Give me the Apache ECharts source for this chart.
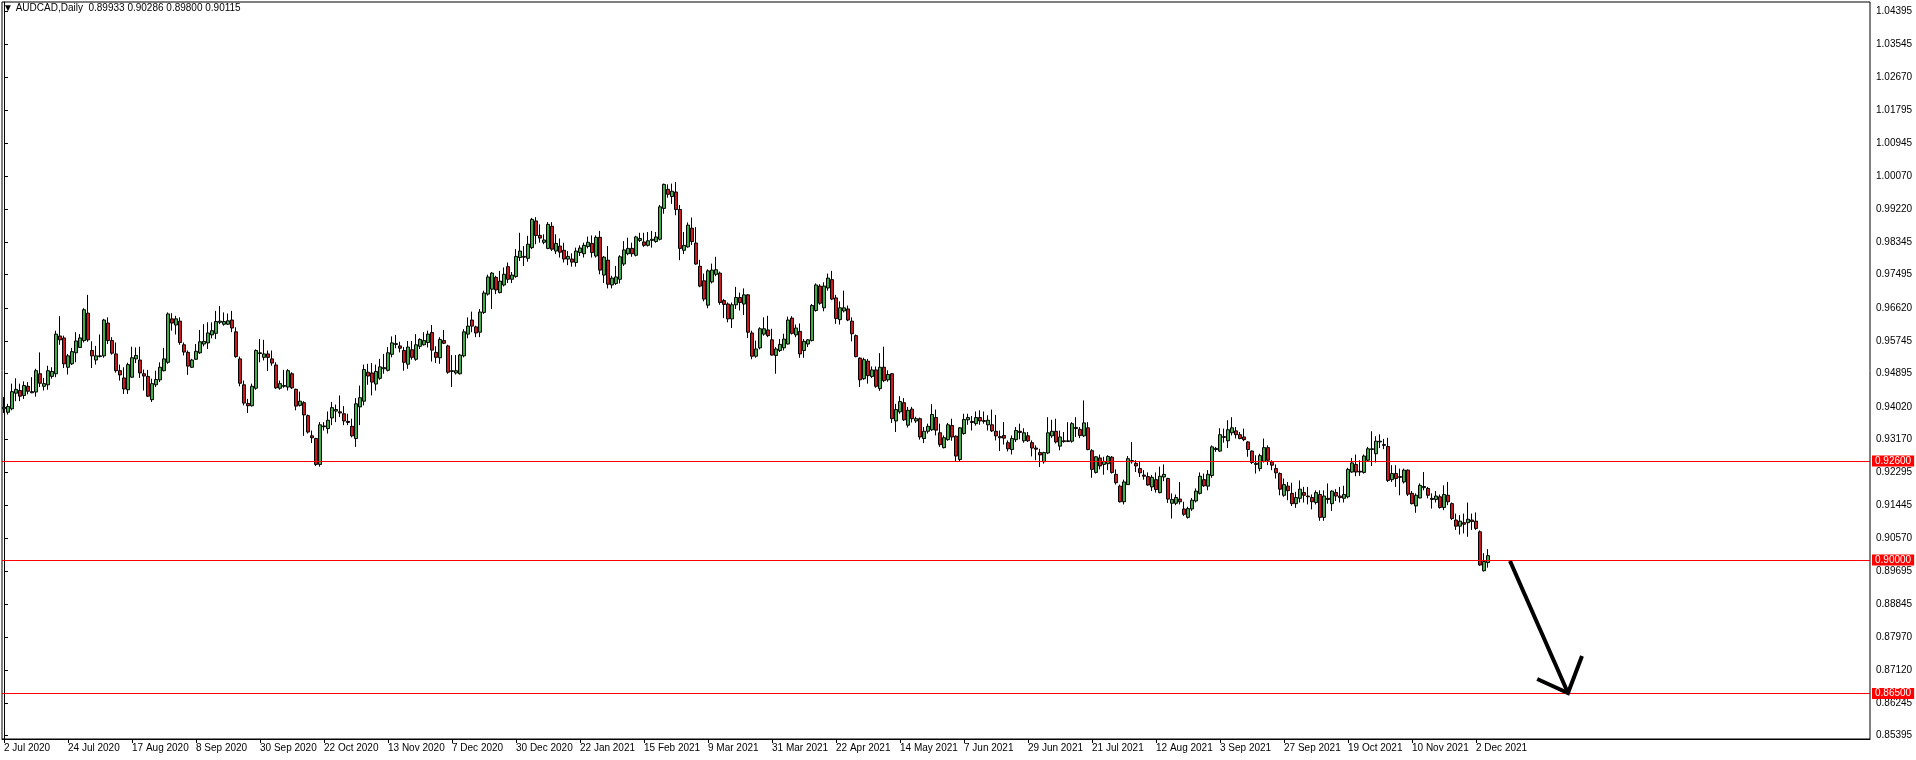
<!DOCTYPE html>
<html>
<head>
<meta charset="utf-8">
<script src="https://cdn.jsdelivr.net/npm/echarts@6/dist/echarts.min.js"></script>
<style>
html,body{margin:0;padding:0;background:#fff;}
#chart{width:1916px;height:760px;}
</style>
</head>
<body>
<div id="chart"></div>
<script>
const symbolName = 'AUDCAD,Daily';
const tickLabels = ['2 Jul 2020','24 Jul 2020','17 Aug 2020','8 Sep 2020','30 Sep 2020','22 Oct 2020','13 Nov 2020','7 Dec 2020','30 Dec 2020','22 Jan 2021','15 Feb 2021','9 Mar 2021','31 Mar 2021','22 Apr 2021','14 May 2021','7 Jun 2021','29 Jun 2021','21 Jul 2021','12 Aug 2021','3 Sep 2021','27 Sep 2021','19 Oct 2021','10 Nov 2021','2 Dec 2021'];
const yTicks = [1.04395,1.03545,1.02670,1.01795,1.00945,1.00070,0.99220,0.98345,0.97495,0.96620,0.95745,0.94895,0.94020,0.93170,0.92295,0.91445,0.90570,0.89695,0.88845,0.87970,0.87120,0.86245,0.85395];
const levels = [0.92600, 0.90000, 0.86500];

const opens = [
0.9397,0.9388,0.9397,0.9438,0.9445,0.9432,0.9456,0.9439,0.9441,0.9489,
0.9456,0.9460,0.9482,0.9489,0.9588,0.9583,0.9506,0.9515,0.9544,0.9558,
0.9576,0.9648,0.9550,0.9525,0.9534,0.9536,0.9622,0.9576,0.9541,0.9497,
0.9478,0.9447,0.9480,0.9528,0.9525,0.9489,0.9482,0.9421,0.9460,0.9473,
0.9497,0.9519,0.9633,0.9617,0.9627,0.9565,0.9545,0.9506,0.9527,0.9544,
0.9567,0.9570,0.9591,0.9595,0.9624,0.9619,0.9619,0.9630,0.9599,0.9528,
0.9460,0.9411,0.9405,0.9451,0.9542,0.9532,0.9541,0.9528,0.9512,0.9451,
0.9456,0.9454,0.9489,0.9448,0.9406,0.9413,0.9379,0.9326,0.9319,0.9251,
0.9350,0.9345,0.9373,0.9391,0.9389,0.9384,0.9364,0.9351,0.9319,0.9402,
0.9417,0.9493,0.9491,0.9462,0.9477,0.9502,0.9498,0.9540,0.9566,0.9562,
0.9550,0.9514,0.9552,0.9527,0.9561,0.9565,0.9571,0.9597,0.9545,0.9531,
0.9576,0.9562,0.9495,0.9491,0.9489,0.9536,0.9593,0.9630,0.9612,0.9598,
0.9650,0.9698,0.9711,0.9742,0.9702,0.9722,0.9770,0.9737,0.9744,0.9794,
0.9797,0.9792,0.9820,0.9890,0.9852,0.9834,0.9818,0.9876,0.9811,0.9824,
0.9813,0.9790,0.9790,0.9781,0.9807,0.9804,0.9823,0.9831,0.9798,0.9847,
0.9748,0.9787,0.9722,0.9726,0.9737,0.9777,0.9804,0.9818,0.9800,0.9839,
0.9835,0.9826,0.9839,0.9836,0.9842,0.9923,0.9973,0.9954,0.9966,0.9920,
0.9813,0.9822,0.9871,0.9832,0.9771,0.9733,0.9669,0.9730,0.9750,0.9753,
0.9681,0.9672,0.9633,0.9670,0.9689,0.9672,0.9696,0.9596,0.9535,0.9557,
0.9593,0.9604,0.9578,0.9537,0.9550,0.9557,0.9567,0.9635,0.9591,0.9600,
0.9550,0.9567,0.9576,0.9655,0.9719,0.9662,0.9714,0.9736,0.9688,0.9631,
0.9654,0.9659,0.9627,0.9589,0.9530,0.9476,0.9522,0.9482,0.9499,0.9450,
0.9506,0.9473,0.9489,0.9365,0.9389,0.9413,0.9354,0.9396,0.9365,0.9371,
0.9319,0.9338,0.9342,0.9374,0.9334,0.9295,0.9316,0.9353,0.9325,0.9264,
0.9332,0.9368,0.9364,0.9358,0.9374,0.9366,0.9355,0.9355,0.9338,0.9324,
0.9327,0.9308,0.9290,0.9316,0.9338,0.9313,0.9326,0.9308,0.9294,0.9282,
0.9258,0.9281,0.9326,0.9338,0.9299,0.9313,0.9311,0.9312,0.9348,0.9343,
0.9326,0.9347,0.9287,0.9230,0.9268,0.9251,0.9253,0.9270,0.9225,0.9194,
0.9153,0.9198,0.9258,0.9254,0.9240,0.9223,0.9219,0.9192,0.9211,0.9177,
0.9218,0.9214,0.9149,0.9149,0.9160,0.9134,0.9112,0.9134,0.9155,0.9175,
0.9211,0.9194,0.9222,0.9290,0.9286,0.9324,0.9313,0.9334,0.9339,0.9329,
0.9323,0.9310,0.9286,0.9251,0.9240,0.9259,0.9295,0.9258,0.9240,0.9227,
0.9170,0.9194,0.9175,0.9148,0.9162,0.9177,0.9168,0.9164,0.9151,0.9172,
0.9112,0.9162,0.9148,0.9177,0.9168,0.9162,0.9166,0.9231,0.9251,0.9233,
0.9230,0.9262,0.9290,0.9279,0.9310,0.9303,0.9298,0.9211,0.9227,0.9217,
0.9205,0.9236,0.9175,0.9142,0.9163,0.9190,0.9188,0.9159,0.9159,0.9166,
0.9138,0.9170,0.9148,0.9105,0.9089,0.9098,0.9098,0.9105,0.9102,0.9074,
0.8972,0.89933];

const closes = [
0.9401,0.9403,0.9442,0.9448,0.9430,0.9458,0.9443,0.9442,0.9497,0.9464,
0.9463,0.9497,0.9495,0.9593,0.9578,0.9515,0.9536,0.9547,0.9575,0.9583,
0.9657,0.9578,0.9536,0.9536,0.9536,0.9630,0.9576,0.9543,0.9497,0.9486,
0.9449,0.9513,0.9531,0.9537,0.9491,0.9483,0.9430,0.9463,0.9474,0.9506,
0.9528,0.9646,0.9622,0.9633,0.9571,0.9546,0.9509,0.9525,0.9548,0.9573,
0.9574,0.9596,0.9602,0.9626,0.9627,0.9626,0.9628,0.9609,0.9534,0.9464,
0.9412,0.9405,0.9456,0.9550,0.9544,0.9541,0.9532,0.9517,0.9452,0.9463,
0.9458,0.9497,0.9452,0.9404,0.9417,0.9381,0.9336,0.9321,0.9251,0.9355,
0.9352,0.9367,0.9400,0.9395,0.9386,0.9365,0.9361,0.9326,0.9410,0.9426,
0.9500,0.9483,0.9467,0.9495,0.9507,0.9505,0.9544,0.9570,0.9568,0.9556,
0.9519,0.9559,0.9532,0.9565,0.9579,0.9576,0.9593,0.9551,0.9532,0.9579,
0.9569,0.9493,0.9497,0.9497,0.9538,0.9599,0.9614,0.9614,0.9596,0.9651,
0.9701,0.9743,0.9753,0.9709,0.9732,0.9750,0.9737,0.9748,0.9797,0.9811,
0.9795,0.9829,0.9894,0.9852,0.9845,0.9840,0.9881,0.9816,0.9831,0.9808,
0.9790,0.9797,0.9782,0.9811,0.9819,0.9826,0.9834,0.9807,0.9847,0.9761,
0.9795,0.9724,0.9740,0.9743,0.9796,0.9814,0.9818,0.9804,0.9848,0.9844,
0.9826,0.9838,0.9842,0.9848,0.9927,0.9986,0.9960,0.9968,0.9920,0.9818,
0.9826,0.9879,0.9836,0.9777,0.9719,0.9685,0.9759,0.9761,0.9762,0.9676,
0.9671,0.9633,0.9670,0.9689,0.9676,0.9696,0.9598,0.9535,0.9554,0.9607,
0.9607,0.9589,0.9538,0.9554,0.9566,0.9580,0.9630,0.9595,0.9609,0.9541,
0.9574,0.9578,0.9668,0.9722,0.9674,0.9719,0.9740,0.9685,0.9634,0.9662,
0.9662,0.9630,0.9594,0.9534,0.9473,0.9526,0.9484,0.9499,0.9456,0.9506,
0.9471,0.9487,0.9371,0.9395,0.9416,0.9368,0.9393,0.9371,0.9371,0.9323,
0.9338,0.9351,0.9382,0.9341,0.9303,0.9321,0.9355,0.9323,0.9273,0.9347,
0.9369,0.9374,0.9361,0.9374,0.9365,0.9364,0.9367,0.9339,0.9326,0.9321,
0.9320,0.9292,0.9319,0.9340,0.9335,0.9334,0.9313,0.9294,0.9291,0.9276,
0.9282,0.9334,0.9338,0.9310,0.9323,0.9311,0.9313,0.9358,0.9345,0.9327,
0.9360,0.9290,0.9238,0.9271,0.9247,0.9259,0.9272,0.9230,0.9203,0.9153,
0.9205,0.9266,0.9261,0.9247,0.9229,0.9220,0.9197,0.9217,0.9185,0.9220,
0.9225,0.9160,0.9159,0.9164,0.9153,0.9120,0.9135,0.9157,0.9181,0.9220,
0.9195,0.9225,0.9297,0.9293,0.9329,0.9322,0.9342,0.9347,0.9329,0.9319,
0.9316,0.9290,0.9256,0.9254,0.9274,0.9295,0.9262,0.9249,0.9229,0.9186,
0.9198,0.9182,0.9148,0.9164,0.9186,0.9170,0.9166,0.9153,0.9177,0.9112,
0.9168,0.9159,0.9181,0.9168,0.9164,0.9172,0.9238,0.9255,0.9231,0.9231,
0.9273,0.9292,0.9292,0.9312,0.9312,0.9301,0.9209,0.9227,0.9214,0.9219,
0.9236,0.9173,0.9148,0.9170,0.9196,0.9193,0.9170,0.9162,0.9168,0.9138,
0.9172,0.9153,0.9109,0.9089,0.9102,0.9094,0.9107,0.9101,0.9083,0.8987,
0.8996,0.90115];

const lows = [
0.9386,0.9382,0.9393,0.9417,0.9417,0.9423,0.9435,0.9438,0.9429,0.9454,
0.9445,0.9447,0.9476,0.9480,0.9565,0.9504,0.9487,0.9512,0.9519,0.9557,
0.9571,0.9573,0.9504,0.9513,0.9532,0.9531,0.9567,0.9539,0.9492,0.9471,
0.9436,0.9436,0.9478,0.9517,0.9478,0.9445,0.9428,0.9415,0.9454,0.9467,
0.9495,0.9515,0.9602,0.9592,0.9565,0.9537,0.9486,0.9504,0.9525,0.9541,
0.9561,0.9554,0.9582,0.9580,0.9619,0.9615,0.9617,0.9598,0.9531,0.9456,
0.9406,0.9386,0.9403,0.9447,0.9519,0.9524,0.9496,0.9510,0.9449,0.9447,
0.9452,0.9445,0.9449,0.9393,0.9403,0.9326,0.9332,0.9307,0.9247,0.9245,
0.9340,0.9332,0.9354,0.9362,0.9375,0.9354,0.9354,0.9322,0.9297,0.9354,
0.9406,0.9460,0.9432,0.9445,0.9473,0.9489,0.9495,0.9532,0.9556,0.9545,
0.9497,0.9502,0.9526,0.9523,0.9554,0.9563,0.9558,0.9521,0.9517,0.9515,
0.9567,0.9489,0.9454,0.9487,0.9487,0.9532,0.9582,0.9598,0.9585,0.9585,
0.9646,0.9694,0.9659,0.9698,0.9700,0.9718,0.9727,0.9727,0.9741,0.9785,
0.9772,0.9783,0.9816,0.9829,0.9833,0.9829,0.9816,0.9811,0.9803,0.9794,
0.9781,0.9774,0.9770,0.9770,0.9798,0.9794,0.9818,0.9794,0.9794,0.9750,
0.9727,0.9713,0.9713,0.9722,0.9726,0.9772,0.9800,0.9796,0.9797,0.9835,
0.9822,0.9823,0.9820,0.9833,0.9839,0.9909,0.9951,0.9935,0.9905,0.9787,
0.9803,0.9820,0.9827,0.9775,0.9716,0.9679,0.9661,0.9726,0.9745,0.9670,
0.9635,0.9624,0.9609,0.9659,0.9655,0.9643,0.9583,0.9527,0.9531,0.9553,
0.9589,0.9585,0.9537,0.9489,0.9546,0.9550,0.9566,0.9592,0.9585,0.9531,
0.9531,0.9559,0.9574,0.9652,0.9670,0.9653,0.9707,0.9682,0.9620,0.9618,
0.9650,0.9627,0.9574,0.9532,0.9454,0.9473,0.9463,0.9478,0.9452,0.9444,
0.9467,0.9468,0.9360,0.9336,0.9384,0.9365,0.9348,0.9361,0.9360,0.9316,
0.9307,0.9332,0.9339,0.9327,0.9297,0.9293,0.9313,0.9313,0.9260,0.9260,
0.9329,0.9355,0.9340,0.9353,0.9355,0.9358,0.9340,0.9336,0.9314,0.9286,
0.9303,0.9285,0.9277,0.9310,0.9317,0.9308,0.9310,0.9272,0.9262,0.9244,
0.9253,0.9278,0.9321,0.9306,0.9288,0.9308,0.9310,0.9308,0.9323,0.9320,
0.9323,0.9288,0.9216,0.9227,0.9238,0.9224,0.9236,0.9227,0.9198,0.9151,
0.9146,0.9197,0.9253,0.9231,0.9218,0.9211,0.9195,0.9181,0.9177,0.9175,
0.9207,0.9150,0.9109,0.9144,0.9146,0.9116,0.9109,0.9129,0.9151,0.9172,
0.9192,0.9183,0.9216,0.9284,0.9284,0.9308,0.9294,0.9327,0.9319,0.9317,
0.9312,0.9271,0.9252,0.9227,0.9233,0.9256,0.9249,0.9236,0.9214,0.9170,
0.9166,0.9157,0.9142,0.9137,0.9151,0.9151,0.9146,0.9133,0.9146,0.9103,
0.9103,0.9148,0.9129,0.9155,0.9151,0.9151,0.9162,0.9229,0.9220,0.9221,
0.9227,0.9258,0.9247,0.9256,0.9294,0.9291,0.9205,0.9205,0.9192,0.9170,
0.9201,0.9168,0.9146,0.9124,0.9162,0.9183,0.9162,0.9135,0.9151,0.9135,
0.9131,0.9144,0.9105,0.9079,0.9067,0.9070,0.9061,0.9079,0.9079,0.8985,
0.8970,0.89800];

const highs = [
0.9428,0.9410,0.9463,0.9477,0.9463,0.9469,0.9467,0.9480,0.9502,0.9545,
0.9478,0.9510,0.9506,0.9602,0.9640,0.9589,0.9541,0.9557,0.9598,0.9593,
0.9661,0.9696,0.9574,0.9562,0.9592,0.9633,0.9637,0.9585,0.9571,0.9513,
0.9506,0.9518,0.9560,0.9558,0.9560,0.9500,0.9499,0.9476,0.9497,0.9519,
0.9557,0.9650,0.9648,0.9641,0.9637,0.9571,0.9550,0.9528,0.9567,0.9604,
0.9619,0.9624,0.9624,0.9654,0.9667,0.9650,0.9647,0.9654,0.9611,0.9534,
0.9471,0.9423,0.9463,0.9553,0.9580,0.9578,0.9550,0.9550,0.9519,0.9471,
0.9499,0.9501,0.9493,0.9450,0.9442,0.9417,0.9382,0.9340,0.9321,0.9362,
0.9362,0.9390,0.9415,0.9408,0.9432,0.9404,0.9384,0.9371,0.9425,0.9458,
0.9513,0.9515,0.9517,0.9513,0.9528,0.9541,0.9559,0.9587,0.9591,0.9573,
0.9559,0.9575,0.9575,0.9593,0.9582,0.9598,0.9602,0.9617,0.9561,0.9585,
0.9604,0.9565,0.9538,0.9538,0.9541,0.9606,0.9637,0.9652,0.9615,0.9659,
0.9707,0.9749,0.9756,0.9746,0.9759,0.9768,0.9781,0.9756,0.9816,0.9859,
0.9824,0.9851,0.9898,0.9900,0.9881,0.9855,0.9887,0.9887,0.9855,0.9844,
0.9833,0.9811,0.9805,0.9820,0.9826,0.9833,0.9849,0.9852,0.9852,0.9864,
0.9798,0.9824,0.9746,0.9772,0.9800,0.9837,0.9846,0.9833,0.9851,0.9859,
0.9859,0.9861,0.9864,0.9861,0.9932,0.9988,0.9986,0.9988,0.9992,0.9932,
0.9861,0.9886,0.9899,0.9874,0.9788,0.9752,0.9763,0.9778,0.9796,0.9757,
0.9685,0.9676,0.9676,0.9717,0.9702,0.9713,0.9698,0.9602,0.9576,0.9611,
0.9637,0.9641,0.9607,0.9559,0.9580,0.9594,0.9639,0.9640,0.9618,0.9621,
0.9580,0.9580,0.9672,0.9726,0.9724,0.9729,0.9752,0.9759,0.9696,0.9679,
0.9707,0.9668,0.9637,0.9592,0.9532,0.9531,0.9528,0.9508,0.9508,0.9543,
0.9560,0.9498,0.9491,0.9410,0.9430,0.9425,0.9402,0.9402,0.9376,0.9374,
0.9349,0.9358,0.9409,0.9395,0.9358,0.9327,0.9360,0.9371,0.9327,0.9349,
0.9384,0.9384,0.9378,0.9390,0.9393,0.9390,0.9380,0.9395,0.9381,0.9340,
0.9362,0.9314,0.9327,0.9349,0.9358,0.9346,0.9336,0.9314,0.9301,0.9292,
0.9284,0.9375,0.9368,0.9371,0.9340,0.9336,0.9362,0.9362,0.9375,0.9349,
0.9419,0.9362,0.9291,0.9273,0.9277,0.9271,0.9275,0.9273,0.9238,0.9198,
0.9211,0.9273,0.9310,0.9262,0.9258,0.9236,0.9230,0.9223,0.9230,0.9245,
0.9251,0.9216,0.9175,0.9172,0.9205,0.9153,0.9140,0.9163,0.9188,0.9230,
0.9227,0.9236,0.9301,0.9297,0.9346,0.9345,0.9367,0.9375,0.9349,0.9336,
0.9345,0.9312,0.9288,0.9275,0.9279,0.9319,0.9301,0.9262,0.9251,0.9230,
0.9214,0.9205,0.9203,0.9179,0.9209,0.9192,0.9192,0.9172,0.9183,0.9183,
0.9183,0.9201,0.9183,0.9186,0.9192,0.9195,0.9242,0.9268,0.9277,0.9262,
0.9277,0.9297,0.9338,0.9325,0.9330,0.9318,0.9321,0.9249,0.9249,0.9240,
0.9240,0.9238,0.9181,0.9175,0.9201,0.9231,0.9192,0.9175,0.9181,0.9172,
0.9196,0.9205,0.9151,0.9122,0.9118,0.9122,0.9151,0.9122,0.9125,0.9078,
0.9018,0.90286];

// annotation arrow (bar-index, price)
const arrowShaft = [[376.5, 0.89975], [391, 0.86511]];
const arrowHead = [[383.3, 0.86878], [391, 0.86511], [394.5, 0.87482]];

const TOTAL_SLOTS = 467;
const BARS_PER_LABEL = 16;
const categories = [];
for (let i = 0; i < TOTAL_SLOTS; i++) categories.push(String(i));
const ohlc = opens.map((o, i) => [o, closes[i], lows[i], highs[i]]);
const last = ohlc.length - 1;

const FONT = 'Liberation Sans';
const isLabelIdx = (i) => i % BARS_PER_LABEL === 0 && (i / BARS_PER_LABEL) < tickLabels.length;

const priceLabel = (bg) => ({
  show: true, position: 'end', distance: 2,
  formatter: (p) => Number(p.value).toFixed(5),
  backgroundColor: bg, color: '#fff', padding: [1, 3, 0, 3], fontFamily: FONT, fontSize: 10
});

const chart = echarts.init(document.getElementById('chart'), null, {renderer: 'canvas'});
chart.setOption({
  animation: false,
  backgroundColor: '#fff',
  title: {
    text: '\u25BC ' + symbolName + '  ' + [opens[last], highs[last], lows[last], closes[last]].map(v => v.toFixed(5)).join(' '),
    left: 3, top: 3, padding: 0,
    textStyle: {fontFamily: FONT, fontSize: 10, fontWeight: 'normal', color: '#000'}
  },
  grid: {left: 2, right: 46, top: 2, bottom: 21, show: true, borderColor: '#000', borderWidth: 1, backgroundColor: '#fff'},
  xAxis: [{
    type: 'category', data: categories, boundaryGap: true,
    axisLine: {show: true, lineStyle: {color: '#000', width: 1}},
    axisTick: {show: true, alignWithLabel: true, length: 4, interval: (i) => isLabelIdx(i), lineStyle: {color: '#000'}},
    axisLabel: {show: true, interval: (i) => isLabelIdx(i), formatter: (v, i) => tickLabels[Math.round(i / BARS_PER_LABEL)] || '',
      align: 'left', margin: 4, fontFamily: FONT, fontSize: 10, color: '#000'},
    splitLine: {show: false}
  }, {
    type: 'value', min: -0.5, max: TOTAL_SLOTS - 0.5, show: false
  }],
  yAxis: {
    type: 'value', position: 'right', scale: true, min: 0.85303, max: 1.04647,
    axisLine: {show: true, lineStyle: {color: '#000', width: 1}},
    axisTick: {show: true, length: 4, customValues: yTicks, lineStyle: {color: '#000'}},
    axisLabel: {show: true, customValues: yTicks, formatter: (v) => v.toFixed(5), margin: 6, fontFamily: FONT, fontSize: 10, color: '#000'},
    splitLine: {show: false}
  },
  series: [{
    type: 'candlestick',
    data: ohlc,
    barWidth: 3,
    itemStyle: {color: '#3cb043', color0: '#d0161c', borderColor: '#000', borderColor0: '#000', borderWidth: 1},
    markLine: {
      silent: true, symbol: 'none', animation: false, precision: 5,
      data: [
        {yAxis: closes[last], lineStyle: {color: '#000', width: 0, opacity: 0}, label: priceLabel('#000')}
      ].concat(levels.map(v => ({
        yAxis: v,
        lineStyle: {color: '#ff0000', width: 1, type: 'solid'},
        label: priceLabel('#ff0000')
      })))
    }
  }, {
    type: 'line', xAxisIndex: 1, data: arrowShaft, symbol: 'none',
    lineStyle: {color: '#000', width: 4}, z: 5
  }, {
    type: 'line', xAxisIndex: 1, data: arrowHead, symbol: 'none',
    lineStyle: {color: '#000', width: 4, join: 'miter'}, z: 5
  }]
});
</script>
</body>
</html>
